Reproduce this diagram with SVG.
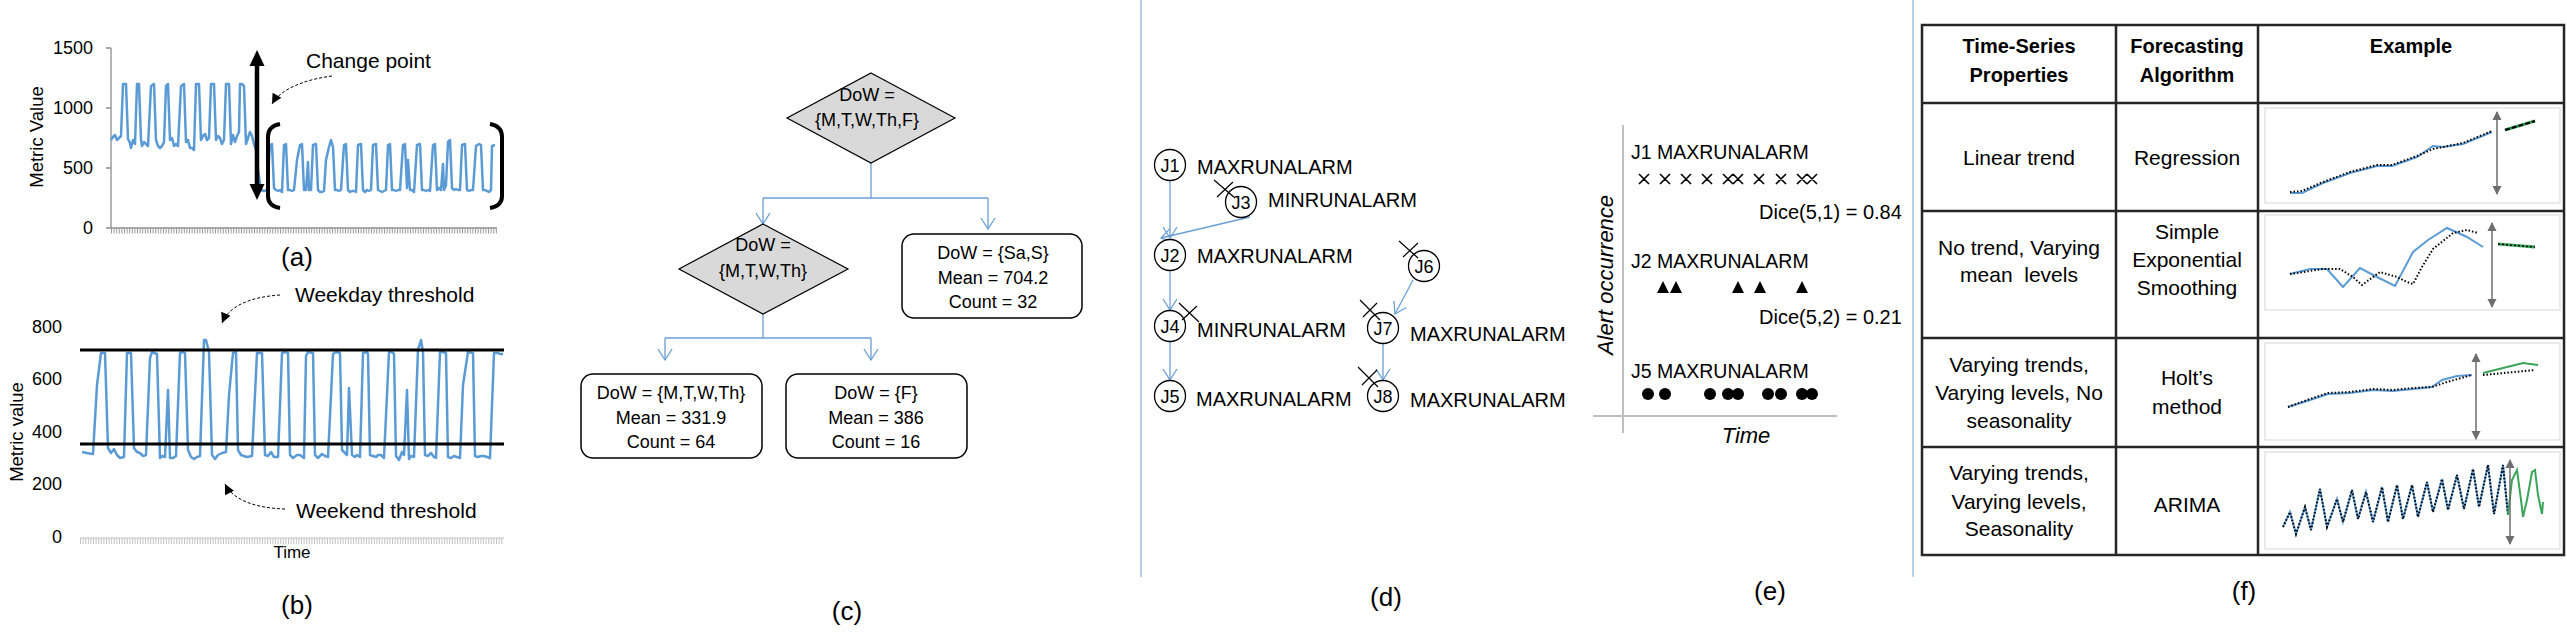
<svg xmlns="http://www.w3.org/2000/svg" width="2567" height="644" viewBox="0 0 2567 644">
<style>
.t{font-family:"Liberation Sans",Arial,sans-serif;fill:#000}
.b{font-weight:bold}
.i{font-style:italic}
.sig{fill:none;stroke:#5b9bd5;stroke-width:2.5;stroke-linejoin:round}
.ax{stroke:#8c8c8c;stroke-width:1.3;fill:none}
.conn{stroke:#6a9fd4;stroke-width:1.3;fill:none}
.dash{stroke:#000;stroke-width:1;stroke-dasharray:3 2;fill:none}
.cross{stroke:#000;stroke-width:1.2}
.node{fill:#fff;stroke:#000;stroke-width:1.3}
.dia{fill:#d9d9d9;stroke:#000;stroke-width:1.2}
.box{fill:#fff;stroke:#000;stroke-width:1.5}
.dot{fill:none;stroke:#000;stroke-width:2;stroke-dasharray:1.5 2}
.blu{fill:none;stroke:#5b9bd5;stroke-width:2}
.grn{fill:none;stroke:#3aa55a;stroke-width:2}
.tb{stroke:#262626;stroke-width:2.5;fill:none}
.frame{fill:none;stroke:#e3e3e3;stroke-width:1.5}
.garrow{stroke:#6d6d6d;stroke-width:1.5}
.div{stroke:#6a9fd4;stroke-width:1}
</style>
<defs>
<marker id="vopen" viewBox="-13 -9 15 18" markerWidth="15" markerHeight="18" refX="0" refY="0" orient="auto" markerUnits="userSpaceOnUse"><path d="M-11,-7 L0,0 L-11,7" fill="none" stroke="#6a9fd4" stroke-width="1.3"/></marker>
<marker id="afill" viewBox="-11 -6 12 12" markerWidth="12" markerHeight="12" refX="0" refY="0" orient="auto" markerUnits="userSpaceOnUse"><path d="M0,0 L-10,-5 L-10,5 Z" fill="#000"/></marker>
<marker id="garr" viewBox="-9 -5 10 10" markerWidth="10" markerHeight="10" refX="-1" refY="0" orient="auto-start-reverse" markerUnits="userSpaceOnUse"><path d="M0,0 L-9,-4.5 L-9,4.5 Z" fill="#6d6d6d"/></marker>
</defs>
<rect width="2567" height="644" fill="#fff"/>

<!-- dividers -->
<line class="div" x1="1141" y1="0" x2="1141" y2="577"/>
<line class="div" x1="1913" y1="0" x2="1913" y2="577"/>

<!-- panel a -->
<g id="panel-a">
<line class="ax" x1="111" y1="48" x2="111" y2="228"/>
<line class="ax" x1="111" y1="228" x2="497" y2="228"/>
<line x1="111" y1="231" x2="497" y2="231" stroke="#9a9a9a" stroke-width="5" stroke-dasharray="1 1.6"/>
<path class="ax" d="M106,48H111M106,108H111M106,168H111M106,228H111"/>
<text class="t" x="93" y="54" font-size="18" text-anchor="end">1500</text>
<text class="t" x="93" y="114" font-size="18" text-anchor="end">1000</text>
<text class="t" x="93" y="174" font-size="18" text-anchor="end">500</text>
<text class="t" x="93" y="234" font-size="18" text-anchor="end">0</text>
<text class="t" font-size="18.5" text-anchor="middle" transform="translate(43,137) rotate(-90)">Metric Value</text>
<polyline class="sig" points="111,140 113,137 115,135 117,140 119,138 121,136 123,84 126,84 128,139 130,143 131,148 133,140 135,144 137,84 139,84 141,140 142,146 144,142 146,144 148,146 151,86 154,84 156,140 158,146 160,148 162,146 164,142 166,86 168,84 170,140 172,138 174,146 176,144 178,146 181,86 184,84 186,142 188,140 190,148 192,148 194,150 196,84 199,84 201,140 203,136 205,134 207,140 209,138 211,84 214,84 216,140 218,136 220,138 222,144 224,140 226,84 229,84 231,144 233,135 235,142 237,136 239,132 240,84 242,84 244,86 246,144 248,138 250,132 252,136 254,144 256,150 258,170 261,190 264,191 267,190 270,145 272,144 274,188 276,190 278,191 280,190 282,192 284,145 286,144 288,190 290,190 292,191 294,190 297,160 300,145 302,144 304,190 306,190 308,162 309,190 311,190 313,145 316,144 318,190 320,192 322,192 324,191 326,160 329,147 331,140 333,147 335,190 337,190 339,191 341,190 344,145 346,144 348,190 350,192 352,191 354,191 356,192 358,145 361,144 363,190 365,192 367,190 369,191 371,190 373,145 376,144 378,190 380,191 382,192 384,191 386,190 388,145 390,144 392,190 394,190 396,191 398,190 400,190 403,145 405,144 407,188 408,160 410,190 412,190 414,192 417,145 420,144 422,190 424,190 426,191 428,190 430,191 433,145 435,144 437,190 439,188 441,190 443,164 444,190 446,185 448,142 450,140 452,188 454,190 456,189 458,190 460,190 462,145 465,144 467,190 469,191 471,190 473,190 476,146 479,144 481,145 483,190 485,190 487,191 489,192 491,190 492,146 495,145"/>
<line x1="257" y1="62" x2="257" y2="188" stroke="#000" stroke-width="4.5"/>
<polygon points="257,50 249.5,66 264.5,66" fill="#000"/>
<polygon points="257,200 249.5,184 264.5,184" fill="#000"/>
<path d="M280,124 Q268,126 268,137 L268,196 Q268,206 280,208" fill="none" stroke="#000" stroke-width="4"/>
<path d="M490,124 Q502,126 502,137 L502,196 Q502,206 490,208" fill="none" stroke="#000" stroke-width="4"/>
<path class="dash" d="M332,76 C302,80 280,90 272,104" marker-end="url(#afill)"/>
<text class="t" x="306" y="68" font-size="21">Change point</text>
<text class="t" x="297" y="266" font-size="26" text-anchor="middle">(a)</text>
</g>

<!-- panel b -->
<g id="panel-b">
<line x1="80" y1="541" x2="504" y2="541" stroke="#c4c4c4" stroke-width="6" stroke-dasharray="1 1.6"/>
<line x1="80" y1="538" x2="504" y2="538" stroke="#c4c4c4" stroke-width="1"/>
<text class="t" x="62" y="333" font-size="18" text-anchor="end">800</text>
<text class="t" x="62" y="385" font-size="18" text-anchor="end">600</text>
<text class="t" x="62" y="438" font-size="18" text-anchor="end">400</text>
<text class="t" x="62" y="490" font-size="18" text-anchor="end">200</text>
<text class="t" x="62" y="543" font-size="18" text-anchor="end">0</text>
<text class="t" font-size="18.5" text-anchor="middle" transform="translate(23,432) rotate(-90)">Metric value</text>
<polyline class="sig" points="82,452 87,453 92,454 93,454 97,385 101,353 105,353 108,448 111,453 114,449 117,455 120,458 124,457 127,353 131,353 134,448 137,452 140,453 143,456 146,455 150,358 152,352 157,354 160,458 162,456 165,457 168,390 170,458 173,458 176,456 180,353 183,352 185,353 188,450 191,457 194,459 197,457 200,456 204,340 206,340 209,352 212,455 215,459 218,455 222,453 226,452 229,395 233,353 236,352 238,450 241,455 244,456 247,457 252,456 257,353 259,353 262,353 265,455 268,456 271,452 274,457 278,457 282,353 285,352 288,353 290,455 293,458 297,455 300,455 304,458 306,356 308,352 313,353 315,455 318,458 322,454 325,456 328,457 333,354 336,352 340,353 342,450 345,453 347,455 349,388 352,455 355,457 357,455 360,457 363,353 367,352 368,354 370,455 373,456 376,457 378,455 381,455 384,458 389,352 392,352 394,354 396,456 399,460 402,452 404,455 407,390 409,459 411,456 414,457 418,350 421,340 423,352 425,455 428,456 431,453 434,457 436,458 440,352 443,352 446,353 448,457 451,458 454,456 457,457 460,458 463,385 468,352 473,353 475,456 478,457 481,456 484,456 487,457 490,458 494,353 498,353 500,354 503,354"/>
<line x1="80" y1="350" x2="504" y2="350" stroke="#000" stroke-width="3"/>
<line x1="80" y1="444" x2="504" y2="444" stroke="#000" stroke-width="3"/>
<path class="dash" d="M280,295 C250,297 229,306 222,323" marker-end="url(#afill)"/>
<path class="dash" d="M285,509 C255,508 233,500 225,484" marker-end="url(#afill)"/>
<text class="t" x="295" y="302" font-size="21">Weekday threshold</text>
<text class="t" x="296" y="518" font-size="21">Weekend threshold</text>
<text class="t" x="292" y="558" font-size="17" text-anchor="middle">Time</text>
<text class="t" x="297" y="614" font-size="26" text-anchor="middle">(b)</text>
</g>

<!-- panel c -->
<g id="c-connectors">
<path class="conn" d="M871,163V198M763,198H988"/>
<path class="conn" d="M763,198V224" marker-end="url(#vopen)"/>
<path class="conn" d="M988,198V229" marker-end="url(#vopen)"/>
<path class="conn" d="M763,314V338M665,338H871" stroke-width="1.8"/>
<path class="conn" d="M665,338V360" marker-end="url(#vopen)"/>
<path class="conn" d="M871,338V360" marker-end="url(#vopen)"/>
</g>
<g id="c-root">
<polygon class="dia" points="871,73 955,118 871,163 787,118"/>
<text class="t" x="867" y="101" font-size="18" text-anchor="middle">DoW =</text>
<text class="t" x="867" y="126" font-size="18" text-anchor="middle">{M,T,W,Th,F}</text>
</g>
<g id="c-split">
<polygon class="dia" points="763,224 848,269 763,314 679,269"/>
<text class="t" x="763" y="251" font-size="18" text-anchor="middle">DoW =</text>
<text class="t" x="763" y="277" font-size="18" text-anchor="middle">{M,T,W,Th}</text>
</g>
<g id="c-weekend">
<rect class="box" x="902" y="234" width="180" height="84" rx="12"/>
<text class="t" x="993" y="259" font-size="18" text-anchor="middle">DoW = {Sa,S}</text>
<text class="t" x="993" y="284" font-size="18" text-anchor="middle">Mean = 704.2</text>
<text class="t" x="993" y="308" font-size="18" text-anchor="middle">Count = 32</text>
</g>
<g id="c-mtwth">
<rect class="box" x="581" y="374" width="181" height="84" rx="12"/>
<text class="t" x="671" y="399" font-size="18" text-anchor="middle">DoW = {M,T,W,Th}</text>
<text class="t" x="671" y="424" font-size="18" text-anchor="middle">Mean = 331.9</text>
<text class="t" x="671" y="448" font-size="18" text-anchor="middle">Count = 64</text>
</g>
<g id="c-friday">
<rect class="box" x="786" y="374" width="181" height="84" rx="12"/>
<text class="t" x="876" y="399" font-size="18" text-anchor="middle">DoW = {F}</text>
<text class="t" x="876" y="424" font-size="18" text-anchor="middle">Mean = 386</text>
<text class="t" x="876" y="448" font-size="18" text-anchor="middle">Count = 16</text>
</g>
<text class="t" x="847" y="620" font-size="26" text-anchor="middle">(c)</text>

<!-- panel d -->
<g id="d-connectors">
<path class="conn" d="M1170,181V238" marker-end="url(#vopen)"/>
<path class="conn" d="M1250,217L1161,238" marker-end="url(#vopen)"/>
<path class="conn" d="M1170,271V310" marker-end="url(#vopen)"/>
<path class="conn" d="M1170,342V380" marker-end="url(#vopen)"/>
<path class="conn" d="M1413,280L1395,314" marker-end="url(#vopen)"/>
<path class="conn" d="M1383,344V380" marker-end="url(#vopen)"/>
</g>
<g id="d-J1">
<circle class="node" cx="1170" cy="165" r="15.5"/>
<text class="t" x="1170" y="172" font-size="18" text-anchor="middle">J1</text>
<text class="t" x="1197" y="174" font-size="20">MAXRUNALARM</text>
</g>
<g id="d-J3">
<circle class="node" cx="1241" cy="202" r="15.5"/>
<text class="t" x="1241" y="209" font-size="18" text-anchor="middle">J3</text>
<text class="t" x="1268" y="207" font-size="20">MINRUNALARM</text>
<path class="cross" d="M1214,180L1235,198M1217,197L1233,182"/>
</g>
<g id="d-J2">
<circle class="node" cx="1170" cy="255" r="15.5"/>
<text class="t" x="1170" y="262" font-size="18" text-anchor="middle">J2</text>
<text class="t" x="1197" y="263" font-size="20">MAXRUNALARM</text>
</g>
<g id="d-J6">
<circle class="node" cx="1424" cy="266" r="15.5"/>
<text class="t" x="1424" y="273" font-size="18" text-anchor="middle">J6</text>
<path class="cross" d="M1399,241L1418,258M1403,257L1418,243"/>
</g>
<g id="d-J4">
<circle class="node" cx="1170" cy="326" r="15.5"/>
<text class="t" x="1170" y="333" font-size="18" text-anchor="middle">J4</text>
<text class="t" x="1197" y="337" font-size="20">MINRUNALARM</text>
<path class="cross" d="M1179,303L1199,322M1182,320L1197,306"/>
</g>
<g id="d-J7">
<circle class="node" cx="1383" cy="328" r="15.5"/>
<text class="t" x="1383" y="335" font-size="18" text-anchor="middle">J7</text>
<text class="t" x="1410" y="341" font-size="20">MAXRUNALARM</text>
<path class="cross" d="M1360,300L1380,320M1363,317L1377,303"/>
</g>
<g id="d-J5">
<circle class="node" cx="1170" cy="396" r="15.5"/>
<text class="t" x="1170" y="403" font-size="18" text-anchor="middle">J5</text>
<text class="t" x="1196" y="406" font-size="20">MAXRUNALARM</text>
</g>
<g id="d-J8">
<circle class="node" cx="1383" cy="396" r="15.5"/>
<text class="t" x="1383" y="403" font-size="18" text-anchor="middle">J8</text>
<text class="t" x="1410" y="407" font-size="20">MAXRUNALARM</text>
<path class="cross" d="M1358,367L1378,387M1362,385L1377,370"/>
</g>
<text class="t" x="1386" y="606" font-size="26" text-anchor="middle">(d)</text>

<!-- panel e -->
<g id="panel-e">
<line x1="1623" y1="125" x2="1623" y2="433" stroke="#bfbfbf" stroke-width="2"/>
<line x1="1593" y1="416" x2="1837" y2="416" stroke="#bfbfbf" stroke-width="2"/>
<text class="t i" font-size="22" text-anchor="middle" transform="translate(1613,275) rotate(-90)">Alert occurrence</text>
<text class="t i" x="1746" y="443" font-size="22" text-anchor="middle">Time</text>
<text class="t" x="1631" y="159" font-size="19.5">J1 MAXRUNALARM</text>
<path stroke="#000" stroke-width="1.6" d="M1639,174l10,10m0,-10l-10,10M1660,174l10,10m0,-10l-10,10M1681,174l10,10m0,-10l-10,10M1702,174l10,10m0,-10l-10,10M1723,174l10,10m0,-10l-10,10M1733,174l10,10m0,-10l-10,10M1754,174l10,10m0,-10l-10,10M1776,174l10,10m0,-10l-10,10M1797,174l10,10m0,-10l-10,10M1807,174l10,10m0,-10l-10,10"/>
<text class="t" x="1759" y="219" font-size="20">Dice(5,1) = 0.84</text>
<text class="t" x="1631" y="268" font-size="19.5">J2 MAXRUNALARM</text>
<path fill="#000" d="M1663,281l6,12h-12zM1676,281l6,12h-12zM1738,281l6,12h-12zM1760,281l6,12h-12zM1802,281l6,12h-12z"/>
<text class="t" x="1759" y="324" font-size="20">Dice(5,2) = 0.21</text>
<text class="t" x="1631" y="378" font-size="19.5">J5 MAXRUNALARM</text>
<g fill="#000">
<circle cx="1648" cy="394" r="6"/><circle cx="1665" cy="394" r="6"/><circle cx="1710" cy="394" r="6"/><circle cx="1728" cy="394" r="6"/><circle cx="1738" cy="394" r="6"/><circle cx="1768" cy="394" r="6"/><circle cx="1781" cy="394" r="6"/><circle cx="1802" cy="394" r="6"/><circle cx="1812" cy="394" r="6"/>
</g>
<text class="t" x="1770" y="600" font-size="26" text-anchor="middle">(e)</text>
</g>

<!-- panel f table -->
<g id="panel-f">
<rect class="tb" x="1922" y="25" width="642" height="530"/>
<path class="tb" d="M2116,25V555M2258,25V555M1922,103H2564M1922,211H2564M1922,338H2564M1922,447H2564"/>
<text class="t b" x="2019" y="53" font-size="20" text-anchor="middle">Time-Series</text>
<text class="t b" x="2019" y="82" font-size="20" text-anchor="middle">Properties</text>
<text class="t b" x="2187" y="53" font-size="20" text-anchor="middle">Forecasting</text>
<text class="t b" x="2187" y="82" font-size="20" text-anchor="middle">Algorithm</text>
<text class="t b" x="2411" y="53" font-size="20" text-anchor="middle">Example</text>
<text class="t" x="2019" y="165" font-size="21" text-anchor="middle">Linear trend</text>
<text class="t" x="2187" y="165" font-size="21" text-anchor="middle">Regression</text>
<text class="t" x="2019" y="255" font-size="21" text-anchor="middle">No trend, Varying</text>
<text class="t" x="2019" y="282" font-size="21" text-anchor="middle" xml:space="preserve">mean  levels</text>
<text class="t" x="2187" y="239" font-size="21" text-anchor="middle">Simple</text>
<text class="t" x="2187" y="267" font-size="21" text-anchor="middle">Exponential</text>
<text class="t" x="2187" y="295" font-size="21" text-anchor="middle">Smoothing</text>
<text class="t" x="2019" y="372" font-size="21" text-anchor="middle">Varying trends,</text>
<text class="t" x="2019" y="400" font-size="21" text-anchor="middle">Varying levels, No</text>
<text class="t" x="2019" y="428" font-size="21" text-anchor="middle">seasonality</text>
<text class="t" x="2187" y="385" font-size="21" text-anchor="middle">Holt’s</text>
<text class="t" x="2187" y="414" font-size="21" text-anchor="middle">method</text>
<text class="t" x="2019" y="480" font-size="21" text-anchor="middle">Varying trends,</text>
<text class="t" x="2019" y="509" font-size="21" text-anchor="middle">Varying levels,</text>
<text class="t" x="2019" y="536" font-size="21" text-anchor="middle">Seasonality</text>
<text class="t" x="2187" y="512" font-size="21" text-anchor="middle">ARIMA</text>

<!-- example 1 -->
<rect class="frame" x="2265" y="108" width="295" height="95"/>
<polyline class="blu" points="2290,193 2302,193 2323,183 2350,173 2377,166 2392,166 2417,157 2433,146 2443,147 2463,144 2492,132"/>
<polyline class="dot" points="2290,192 2302,191 2323,182 2350,172 2377,165 2392,165 2417,156 2433,149 2443,147 2463,143 2492,131"/>
<line class="garrow" x1="2497" y1="112" x2="2497" y2="194" marker-start="url(#garr)" marker-end="url(#garr)"/>
<line x1="2505" y1="130" x2="2535" y2="121" stroke="#3aa55a" stroke-width="3"/>
<line x1="2505" y1="130" x2="2535" y2="121" stroke="#000" stroke-width="2" stroke-dasharray="5 2"/>

<!-- example 2 -->
<rect class="frame" x="2265" y="215" width="295" height="95"/>
<polyline class="blu" points="2290,274 2310,269 2327,269 2343,287 2360,268 2377,277 2395,286 2413,252 2428,240 2447,228 2467,237 2483,247"/>
<polyline class="dot" points="2290,274 2323,269 2340,269 2353,277 2362,285 2380,272 2397,277 2407,282 2413,284 2422,267 2433,249 2453,233 2467,230 2478,233"/>
<line class="garrow" x1="2492" y1="223" x2="2492" y2="307" marker-start="url(#garr)" marker-end="url(#garr)"/>
<line x1="2498" y1="244" x2="2535" y2="247" stroke="#3aa55a" stroke-width="3"/>
<line x1="2498" y1="244" x2="2535" y2="247" stroke="#000" stroke-width="1.5" stroke-dasharray="2 2"/>

<!-- example 3 -->
<rect class="frame" x="2265" y="343" width="295" height="97"/>
<polyline class="blu" points="2288,407 2307,401 2328,394 2350,393 2373,390 2393,391 2413,389 2432,387 2442,380 2457,376 2472,375"/>
<polyline class="dot" points="2288,407 2307,400 2328,393 2350,392 2373,389 2393,390 2413,388 2432,387 2447,382 2472,375"/>
<line class="garrow" x1="2476" y1="354" x2="2476" y2="439" marker-start="url(#garr)" marker-end="url(#garr)"/>
<polyline class="grn" points="2483,373 2523,363 2538,365"/>
<line class="dot" x1="2483" y1="375" x2="2535" y2="370"/>

<!-- example 4 -->
<rect class="frame" x="2265" y="452" width="295" height="97"/>
<polyline class="blu" stroke-width="2.5" points="2283,527 2290,512 2296,534 2305,507 2311,530 2320,489 2327,527 2337,499 2343,522 2352,490 2358,519 2366,492 2373,522 2382,487 2388,522 2397,485 2403,519 2412,485 2418,517 2427,482 2433,512 2442,479 2448,510 2457,475 2464,509 2473,469 2479,507 2488,465 2494,514 2503,465 2508,515"/>
<polyline class="dot" points="2283,527 2290,512 2296,534 2305,507 2311,530 2320,489 2327,527 2337,499 2343,522 2352,490 2358,519 2366,492 2373,522 2382,487 2388,522 2397,485 2403,519 2412,485 2418,517 2427,482 2433,512 2442,479 2448,510 2457,475 2464,509 2473,469 2479,507 2488,465 2494,514 2503,465 2508,515"/>
<polyline class="grn" stroke-width="3" points="2508,515 2512,480 2517,470 2521,500 2523,517 2527,500 2532,472 2535,470 2538,495 2542,514 2543,502"/>
<line class="garrow" x1="2510" y1="460" x2="2510" y2="544" marker-start="url(#garr)" marker-end="url(#garr)"/>
<text class="t" x="2244" y="600" font-size="26" text-anchor="middle">(f)</text>
</g>
</svg>
